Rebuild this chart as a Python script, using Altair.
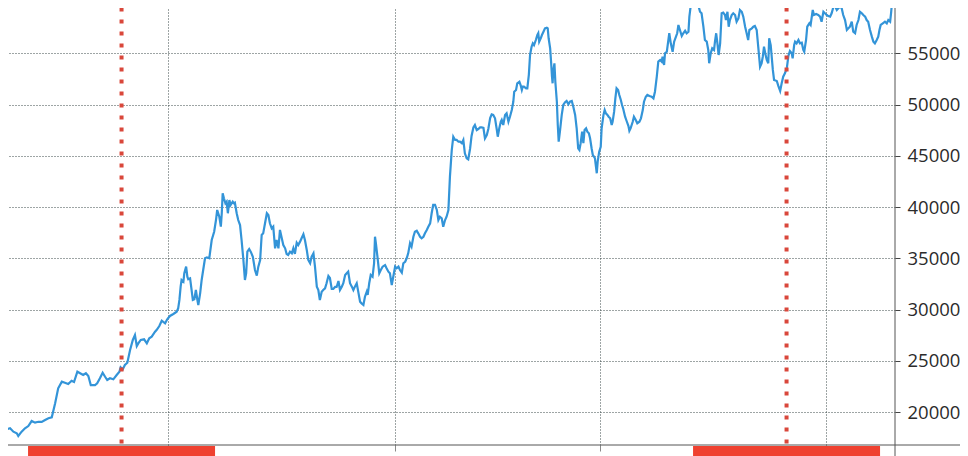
import altair as alt
import pandas as pd

# hours since 2020-12-09 00:00 and price
hours = [
    0, 11, 22, 33, 44, 55, 60, 71, 82, 93,
    104, 115, 126, 137, 148, 159, 170, 181, 191, 203,
    213, 224, 235, 243, 254, 263, 273, 282, 290, 298,
    312, 319, 328, 337, 345, 352, 361, 372, 383, 392,
    396, 403, 410, 418, 427, 436, 443, 449, 454, 462,
    473, 482, 490, 498, 509, 514, 523, 531, 542, 549,
    558, 569, 580, 585, 589, 593, 596, 602, 605, 611,
    615, 618, 624, 629, 633, 638, 643, 648, 651, 657,
    662, 667, 673, 679, 687, 695, 703, 709, 713, 720,
    725, 728, 731, 735, 740, 744, 748, 753, 757, 764,
    768, 771, 777, 782, 788, 793, 799, 804, 808, 812,
    818, 823, 830, 837, 843, 848, 854, 859, 864, 870,
    876, 881, 886, 892, 897, 903, 908, 914, 919, 925,
    930, 936, 941, 946, 952, 958, 963, 968, 974, 979,
    985, 990, 996, 1001, 1007, 1012, 1018, 1023, 1029, 1034,
    1040, 1045, 1050, 1056, 1061, 1067, 1072, 1078, 1083, 1089,
    1094, 1100, 1105, 1111, 1116, 1122, 1127, 1133, 1138, 1143,
    1149, 1155, 1160, 1165, 1171, 1176, 1182, 1187, 1193, 1198,
    1204, 1207, 1212, 1217, 1223, 1228, 1231, 1234, 1239, 1245,
    1250, 1256, 1264, 1269, 1275, 1280, 1286, 1291, 1297, 1302,
    1308, 1313, 1319, 1324, 1330, 1335, 1340, 1346, 1351, 1357,
    1362, 1368, 1373, 1379, 1384, 1390, 1395, 1401, 1406, 1412,
    1417, 1422, 1428, 1434, 1439, 1444, 1450, 1455, 1461, 1466,
    1472, 1477, 1483, 1488, 1494, 1499, 1505, 1510, 1516, 1521,
    1526, 1532, 1537, 1543, 1548, 1554, 1559, 1565, 1570, 1576,
    1581, 1587, 1592, 1598, 1603, 1609, 1614, 1619, 1625, 1631,
    1634, 1639, 1644, 1647, 1652, 1658, 1663, 1669, 1674, 1680,
    1685, 1688, 1694, 1698, 1705, 1709, 1713, 1716, 1720, 1727,
    1731, 1736, 1740, 1745, 1749, 1753, 1759, 1764, 1767, 1770,
    1775, 1779, 1784, 1789, 1795, 1798, 1801, 1806, 1809, 1812,
    1814, 1816, 1820, 1823, 1828, 1831, 1834, 1838, 1844, 1849,
    1855, 1860, 1866, 1871, 1877, 1882, 1888, 1893, 1898, 1902,
    1906, 1911, 1915, 1919, 1924, 1928, 1933, 1937, 1942, 1946,
    1950, 1953, 1957, 1959, 1962, 1967, 1972, 1975, 1981, 1985,
    1989, 1994, 1998, 2003, 2008, 2011, 2016, 2020, 2024, 2029,
    2033, 2038, 2042, 2046, 2052, 2057, 2063, 2066, 2070, 2077,
    2081, 2087, 2092, 2099, 2104, 2110, 2114, 2120, 2125, 2132,
    2139, 2145, 2150, 2156, 2161, 2167, 2172, 2175, 2180, 2183,
    2189, 2194, 2197, 2202, 2208, 2213, 2219, 2223, 2227, 2232,
    2238, 2243, 2249, 2254, 2260, 2263, 2267, 2271, 2276, 2282,
    2287, 2292, 2298, 2303, 2309, 2314, 2320, 2325, 2328, 2333,
    2338, 2344, 2347, 2351, 2355, 2359, 2364, 2369, 2374, 2380,
    2383, 2388, 2392, 2396, 2402, 2407, 2413, 2418, 2424, 2429,
    2435, 2440, 2446, 2451, 2456, 2460, 2468, 2473, 2478, 2484,
    2489, 2495, 2500, 2504, 2508, 2512, 2517, 2522, 2525, 2530,
    2537, 2541, 2550, 2555, 2561, 2566, 2571, 2577, 2583, 2588,
    2593, 2599, 2602, 2607, 2610, 2615, 2621, 2626, 2632, 2637,
    2640, 2646, 2650, 2657, 2661, 2668, 2672, 2679, 2686, 2692,
    2697, 2703, 2708, 2714, 2719, 2725, 2730, 2736, 2741, 2747,
    2752, 2758, 2763, 2768, 2774, 2780, 2785, 2790, 2796, 2801,
    2807, 2812, 2818, 2823, 2829, 2834, 2840, 2845, 2850, 2856,
    2862, 2867, 2872, 2878, 2883, 2887, 2891, 2898, 2905, 2911,
    2916, 2922, 2925, 2928, 2933, 2938,
]

prices = [
    18410, 18510, 18310, 18410, 18080, 17920, 17660, 18080, 18410, 18630,
    19120, 18960, 19050, 19030, 19220, 19390, 19480, 20850, 22310, 22960,
    22860, 22730, 23050, 22930, 23930, 23780, 23610, 23780, 23510, 22630,
    22630, 22800, 23290, 23830, 23440, 23120, 23290, 23190, 23610, 23930,
    24360, 24170, 24590, 24810, 26050, 27030, 27510, 26440, 26700, 27030,
    27090, 26700, 27190, 27350, 27830, 28000, 28390, 28910, 28650, 29040,
    29370, 29560, 29790, 30120, 30930, 32230, 32880, 32710, 33530, 34180,
    33200, 32950, 33040, 31900, 30930, 31000, 31900, 30930, 30440, 31580,
    32880, 33850, 35000, 35090, 35000, 36780, 37590, 38730, 39710, 39050,
    38080, 39390, 41340, 40850, 40360, 40520, 39390, 40680, 40200, 40520,
    40360, 40420, 39390, 38730, 38240, 36780, 34830, 32880, 33530, 35640,
    35900, 35640, 35150, 33850, 33300, 34180, 34830, 37270, 37430, 38410,
    39390, 39220, 38410, 37920, 38080, 35970, 36780, 35970, 37760, 36950,
    36290, 35970, 35420, 35320, 35640, 35480, 35970, 35420, 36520, 36290,
    36620, 36950, 37340, 36780, 35810, 34830, 34510, 35150, 35480, 34180,
    32230, 31900, 30930, 31740, 31900, 32070, 32560, 33270, 33070, 32000,
    32000, 32200, 32200, 32780, 31900, 32230, 32560, 33370, 33530, 33690,
    32560, 32230, 31900, 32230, 32560, 31740, 30760, 30600, 30440, 31250,
    31740, 31420, 32560, 33370, 33200, 34510, 37100, 36460, 35150, 33530,
    33850, 34180, 34340, 34020, 33690, 33530, 32390, 33200, 34180, 34020,
    34180, 33850, 33590, 34510, 34660, 35000, 35480, 36460, 36130, 37100,
    37590, 37690, 37430, 37100, 36950, 37100, 37430, 37760, 38080, 38410,
    39390, 40200, 40200, 39710, 38730, 39050, 38900, 38080, 38730, 39050,
    39710, 42960, 45560, 46860, 46540, 46540, 46370, 46370, 46220, 46540,
    45240, 44750, 44650, 45660, 46930, 47760, 48000, 47510, 47610, 47760,
    47760, 47710, 46700, 47020, 47610, 48680, 49040, 48980, 48650, 47510,
    46860, 47680, 48320, 48490, 48000, 48980, 49140, 48320, 48810, 49460,
    50270, 51250, 51420, 52070, 52220, 51900, 51420, 51740, 51740, 51580,
    51580, 52880, 54830, 55640, 55970, 55800, 56290, 56780, 56950, 56130,
    56460, 56780, 57100, 57430, 57490, 57430, 56460, 55480, 54180, 52710,
    52070, 53200, 54020, 52220, 50270, 48000, 46370, 47350, 48980, 49950,
    50220, 50340, 50020, 50270, 50340, 49790, 48980, 47680, 45730, 45560,
    46220, 47350, 46220, 47510, 47680, 47350, 47190, 46700, 45730, 45070,
    44910, 44750, 43780, 43290, 44420, 45400, 45880, 47680, 48980, 49460,
    49140, 48980, 48810, 48650, 48000, 48320, 49300, 50600, 51580, 51420,
    50930, 50440, 49950, 49560, 48810, 48390, 47900, 47430, 47680, 48320,
    48810, 48490, 48170, 48320, 48650, 49460, 50270, 50760, 50930, 50830,
    50760, 50600, 51250, 52710, 54180, 54340, 54180, 54660, 53850, 55000,
    55150, 56290, 56950, 55970, 55150, 56130, 56620, 56950, 57760, 57270,
    56680, 56950, 57200, 56950, 57100, 58570, 59540, 60030, 60490, 60980,
    60490, 59710, 59050, 58900, 57590, 56290, 56130, 55320, 54020, 55000,
    55480, 55320, 56130, 56950, 55970, 54830, 55970, 58900, 58960, 58730,
    58240, 59050, 57590, 58240, 58730, 58900, 58730, 58080, 58410, 59220,
    59050, 58570, 57590, 56950, 56290, 57270, 57430, 57590, 57660, 57270,
    55640, 53690, 54020, 54660, 55640, 55000, 54340, 54020, 56460, 55800,
    53370, 52390, 52290, 51810, 51320, 52070, 52710, 53070, 53560, 54730,
    55220, 55000, 54510, 55800, 56130, 55970, 56290, 55970, 56030, 55320,
    55150, 56290, 57590, 57920, 57760, 59220, 58730, 58830, 58730, 58570,
    58080, 59050, 58900, 58730, 58630, 58570, 58900, 59540, 59610, 59220,
    59390, 59540, 59390, 58730, 58240, 57270, 57430, 57590, 58080, 57100,
    56950, 57760, 58240, 59050, 58900, 58730, 58570, 58240, 58080, 57270,
    56620, 56130, 55970, 56290, 56620, 57270, 57760, 57920, 58080, 57920,
    58240, 58080, 58900, 59870, 60520, 61170,
]

start_time = "2020-12-09"
event_times = ["2020-12-25T15:00:00", "2021-03-26T14:00:00"]
y_ticks = [20000, 25000, 30000, 35000, 40000, 45000, 50000, 55000, 60000]
month_ticks = [alt.DateTime(year=2021, month=m, date=1) for m in (1, 2, 3, 4)]

assert len(hours) == len(prices)

df = pd.DataFrame({
    "time": pd.Timestamp(start_time) + pd.to_timedelta(hours, unit="h"),
    "price": prices,
})
events = pd.DataFrame({"time": pd.to_datetime(event_times)})
one = pd.DataFrame({"a": [0]})

W, H = 895, 445
GRID = "#3c4b4b"

x_scale = alt.Scale(domain=[alt.DateTime(year=2020, month=12, date=9),
                            alt.DateTime(year=2021, month=4, date=10, hours=10)])
y_scale = alt.Scale(domain=[16781, 60195], nice=False, zero=False)

line = alt.Chart(df).mark_line(color="#3394d8", strokeWidth=2.2, clip=True).encode(
    x=alt.X("time:T", scale=x_scale,
            axis=alt.Axis(values=month_ticks, grid=True, gridDash=[1, 2], gridColor=GRID,
                          gridOpacity=1, labels=False, ticks=True, tickSize=6,
                          tickColor="#8a8a8a", domain=False, title=None)),
    y=alt.Y("price:Q", scale=y_scale,
            axis=alt.Axis(orient="right", values=y_ticks, grid=True, gridDash=[1, 2],
                          gridColor=GRID, gridOpacity=1, domain=False, tickSize=5,
                          tickColor="#444", labelFont="Open Sans", labelFontSize=18.5,
                          labelColor="#2b2b2b", labelPadding=7, format="d", title=None)),
)

event_lines = alt.Chart(events).mark_rule(
    color="#d9473b", strokeWidth=4, strokeDash=[4, 8], strokeDashOffset=4.5
).encode(x=alt.X("time:T", scale=x_scale), y=alt.value(0), y2=alt.value(H))

event_boxes = alt.Chart(events).mark_rule(color="#ef4130", strokeWidth=187).encode(
    x=alt.X("time:T", scale=x_scale), y=alt.value(H + 1), y2=alt.value(H + 40)
)

bottom_line = alt.Chart(one).mark_rule(color="#555", strokeWidth=1).encode(
    x=alt.value(0), x2=alt.value(W + 80), y=alt.value(H)
)
right_line = alt.Chart(one).mark_rule(color="#555", strokeWidth=1).encode(
    x=alt.value(W), y=alt.value(-10), y2=alt.value(H + 40)
)

chart = alt.layer(line, event_lines, event_boxes, bottom_line, right_line).properties(
    width=W, height=H,
    padding={"left": -8, "top": -8, "right": 65, "bottom": 12},
    autosize=alt.AutoSizeParams(type="none"),
    background="white",
).configure_view(stroke=None)

chart.save("out.html", embed_options={"renderer": "svg", "actions": False})
